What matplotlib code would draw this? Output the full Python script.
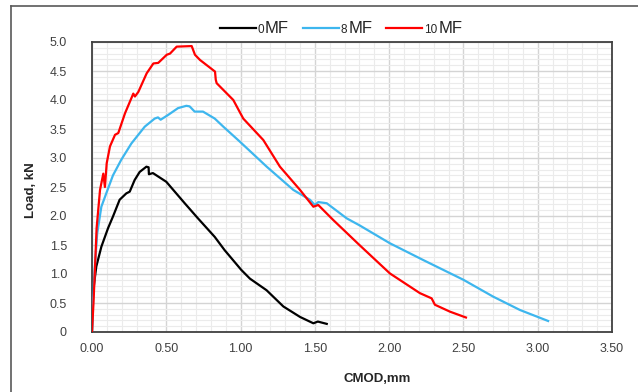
import matplotlib
matplotlib.use("Agg")
import matplotlib.pyplot as plt
from matplotlib.lines import Line2D
from matplotlib.offsetbox import HPacker, TextArea, DrawingArea, AnchoredOffsetbox
from matplotlib.ticker import MultipleLocator, FixedLocator
import numpy as np

plt.rcParams['font.family'] = ['Liberation Sans', 'DejaVu Sans']

# 0MF (black)
x_0mf = [0.0, 0.003, 0.015, 0.029, 0.063, 0.108, 0.141, 0.186, 0.231, 0.254,
         0.287, 0.321, 0.366, 0.381, 0.383, 0.41, 0.50, 0.624, 0.713, 0.826,
         0.893, 1.005, 1.063, 1.175, 1.288, 1.40, 1.49, 1.52, 1.58]
y_0mf = [0.0, 0.55, 0.85, 1.13, 1.47, 1.79, 1.99, 2.28, 2.39, 2.42,
         2.62, 2.76, 2.85, 2.84, 2.72, 2.74, 2.59, 2.22, 1.96, 1.64,
         1.41, 1.07, 0.92, 0.72, 0.44, 0.26, 0.15, 0.18, 0.14]

# 8MF (blue)
x_8mf = [0.0, 0.008, 0.018, 0.035, 0.063, 0.096, 0.141, 0.197, 0.265, 0.355,
         0.422, 0.444, 0.462, 0.511, 0.579, 0.635, 0.657, 0.691, 0.747, 0.826,
         0.884, 0.996, 1.176, 1.355, 1.467, 1.50, 1.523, 1.58, 1.714, 1.80,
         2.005, 2.23, 2.50, 2.70, 2.88, 3.07]
y_8mf = [0.0, 0.6, 1.07, 1.7, 2.16, 2.39, 2.70, 2.97, 3.25, 3.54,
         3.68, 3.70, 3.66, 3.74, 3.86, 3.90, 3.89, 3.80, 3.80, 3.68,
         3.54, 3.28, 2.85, 2.45, 2.28, 2.19, 2.24, 2.22, 1.96, 1.84,
         1.53, 1.24, 0.90, 0.61, 0.38, 0.19]

# 10MF (red)
x_10mf = [0.0, 0.01, 0.02, 0.031, 0.054, 0.076, 0.087, 0.099, 0.121, 0.155,
          0.177, 0.222, 0.278, 0.289, 0.312, 0.368, 0.413, 0.446, 0.503, 0.525,
          0.57, 0.671, 0.693, 0.727, 0.828, 0.833, 0.839, 0.951, 1.018, 1.153,
          1.265, 1.40, 1.49, 1.523, 1.624, 1.80, 2.005, 2.207, 2.286, 2.308,
          2.41, 2.517]
y_10mf = [0.0, 0.5, 1.1, 1.79, 2.45, 2.73, 2.5, 2.91, 3.2, 3.40,
          3.43, 3.77, 4.11, 4.06, 4.14, 4.46, 4.63, 4.64, 4.78, 4.80,
          4.92, 4.93, 4.78, 4.69, 4.49, 4.35, 4.29, 4.0, 3.68, 3.31,
          2.85, 2.45, 2.16, 2.19, 1.93, 1.50, 1.01, 0.67, 0.58, 0.47,
          0.35, 0.25]

series = [("0", x_0mf, y_0mf, "#000000"),
          ("8", x_8mf, y_8mf, "#3db6ee"),
          ("10", x_10mf, y_10mf, "#ff0000")]

x_ticks = [0.0, 0.5, 1.0, 1.5, 2.0, 2.5, 3.0, 3.5]
y_ticks = [0.0, 0.5, 1.0, 1.5, 2.0, 2.5, 3.0, 3.5, 4.0, 4.5, 5.0]
y_tick_labels = ["0", "0.5", "1.0", "1.5", "2.0", "2.5", "3.0", "3.5", "4.0", "4.5", "5.0"]

fig = plt.figure(figsize=(6.38, 3.92), dpi=100)
ax = fig.add_axes([92 / 638, 60 / 392, 520 / 638, 290 / 392])

for name, xs, ys, col in series:
    ax.plot(xs, ys, color=col, lw=1.6, solid_joinstyle='round', zorder=3)

ax.set_xlim(0, 3.5)
ax.set_ylim(0, 5.0)
ax.xaxis.set_major_locator(FixedLocator(x_ticks))
ax.yaxis.set_major_locator(FixedLocator(y_ticks))
ax.set_xticklabels(["%.2f" % v for v in x_ticks])
ax.set_yticklabels(y_tick_labels)
ax.xaxis.set_minor_locator(MultipleLocator(0.1))
ax.yaxis.set_minor_locator(MultipleLocator(0.1))
ax.grid(which='major', color='#d4d4d4', lw=1.0, zorder=0)
ax.grid(which='minor', color='#ebebeb', lw=0.8, zorder=0)
ax.set_axisbelow(True)
ax.tick_params(which='both', length=0, labelsize=9, labelcolor='#404040')
ax.tick_params(axis='y', pad=18)
ax.tick_params(axis='x', pad=8)
for sp in ax.spines.values():
    sp.set_color('#404040')
    sp.set_linewidth(1.3)

ax.set_xlabel("CMOD,mm", fontsize=9.5, fontweight='bold', color='#262626')
ax.xaxis.set_label_coords(285 / 520, -41 / 290)
ax.set_ylabel("Load, kN", fontsize=9.5, fontweight='bold', color='#262626')
ax.yaxis.set_label_coords(-55 / 520, 0.49)

# legend with small digit + larger "MF"
items = []
for name, xs, ys, col in series:
    da = DrawingArea(26, 10, 0, 0)
    da.add_artist(Line2D([0, 26], [4, 4], color=col, lw=1.6))
    num = TextArea(name, textprops=dict(size=8.5, color='#262626'))
    mf = TextArea("MF", textprops=dict(size=12, color='#262626'))
    items.append(HPacker(children=[da, num, mf], align='baseline', pad=0, sep=1))
legend_box = HPacker(children=items, align='baseline', pad=0, sep=10)
anch = AnchoredOffsetbox(loc='center', child=legend_box, frameon=False,
                         bbox_to_anchor=(341 / 638, 1 - 28 / 392),
                         bbox_transform=fig.transFigure, borderpad=0)
fig.add_artist(anch)

# outer frame (top and left edges visible)
fig.add_artist(Line2D([11 / 638, 1.0], [1 - 6 / 392, 1 - 6 / 392],
                      color='#595959', lw=1.2, transform=fig.transFigure))
fig.add_artist(Line2D([11 / 638, 11 / 638], [0.0, 1 - 6 / 392],
                      color='#595959', lw=1.2, transform=fig.transFigure))

fig.savefig("out.png", dpi=100)
